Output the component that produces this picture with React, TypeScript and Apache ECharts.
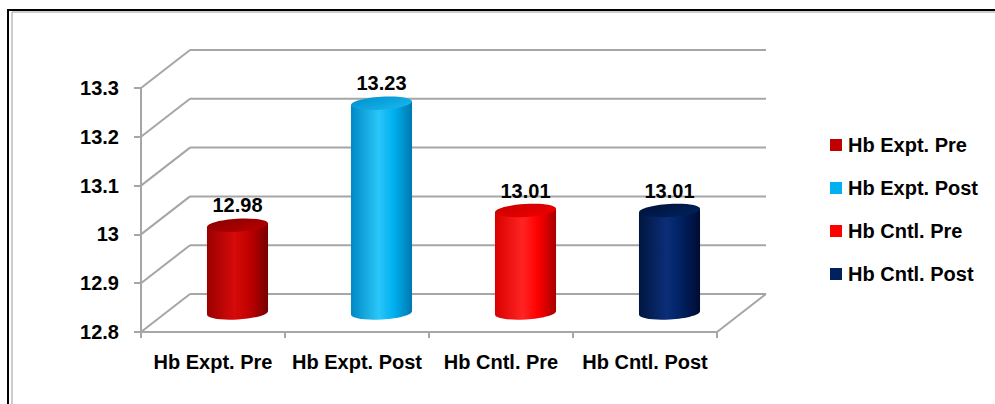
import React, { useEffect, useRef } from 'react';
import * as echarts from 'echarts';

const categories = ['Hb Expt. Pre', 'Hb Expt. Post', 'Hb Cntl. Pre', 'Hb Cntl. Post'];
const values = [12.98, 13.23, 13.01, 13.01];
const colors = ['#C00000', '#00B0F0', '#FF0000', '#002060'];
const yTicks = [12.8, 12.9, 13.0, 13.1, 13.2, 13.3];
const Y_MIN = 12.8;
const Y_MAX = 13.3;
const Y_STEP = 0.1;

// body gradients [left, highlight, mid, right], top face colours
const bodyStops = [
  ['#9A0000', '#D60A0A', '#C00000', '#760000'],
  ['#0088C4', '#2AC6F8', '#00B0F0', '#0078B0'],
  ['#D80000', '#FF2424', '#FF0000', '#A80000'],
  ['#00163F', '#0B2E78', '#002060', '#000C32'],
];
const topStops = [
  ['#8A0000', '#B80000'],
  ['#0090CC', '#1AB8F0'],
  ['#C80000', '#F00000'],
  ['#00123A', '#00225E'],
];

const DX = 49;
const DY = -38;
const ROT = 0.06;
const FONT = 'Liberation Sans, Arial, sans-serif';
const FS = 20;
const GRID_COLOR = '#A6A6A6';

export default function App() {
  const ref = useRef<HTMLDivElement>(null);
  useEffect(() => {
    document.body.style.margin = '0';
    const chart = echarts.init(ref.current!, null, { renderer: 'svg' });

    const frameSeries: any = {
      type: 'custom',
      name: '__frame',
      z: 1,
      clip: false,
      silent: true,
      data: yTicks.map((t) => [0, t]),
      encode: { x: 0, y: 1 },
      renderItem: (params: any, api: any) => {
        const cs = params.coordSys;
        const x0 = cs.x;
        const x1 = cs.x + cs.width;
        const v = api.value(1);
        const y = api.coord([0, v])[1];
        const style = { stroke: GRID_COLOR, lineWidth: 2 };
        const children: any[] = [
          { type: 'line', shape: { x1: x0, y1: y, x2: x0 + DX, y2: y + DY }, style },
          { type: 'line', shape: { x1: x0 + DX, y1: y + DY, x2: x1 + DX, y2: y + DY }, style },
        ];
        if (Math.abs(v - Y_MIN) < 1e-9) {
          children.push({ type: 'line', shape: { x1: x1, y1: y, x2: x1 + DX, y2: y + DY }, style });
        }
        return { type: 'group', children };
      },
    };

    const barSeries = categories.map((name, i) => ({
      type: 'custom',
      name,
      z: 3,
      clip: false,
      itemStyle: { color: colors[i] },
      data: [[i, values[i]]],
      encode: { x: 0, y: 1 },
      renderItem: (params: any, api: any) => {
        const ci = api.value(0);
        const v = api.value(1);
        const top = api.coord([ci, v]);
        const base = api.coord([ci, Y_MIN]);
        const band = api.size([1, 0])[0];
        const cx = top[0] + DX / 2;
        const ty = top[1] + DY / 2;
        const by = base[1] + DY / 2;
        const rx = band * 0.212;
        const ry = 6.5;
        const s = rx * Math.sin(ROT);
        const st = bodyStops[i];
        const grad = () =>
          new echarts.graphic.LinearGradient(0, 0, 1, 0, [
            { offset: 0, color: st[0] },
            { offset: 0.45, color: st[1] },
            { offset: 0.7, color: st[2] },
            { offset: 1, color: st[3] },
          ]);
        const tg = new echarts.graphic.LinearGradient(0, 0, 1, 1, [
          { offset: 0, color: topStops[i][0] },
          { offset: 1, color: topStops[i][1] },
        ]);
        return {
          type: 'group',
          children: [
            {
              type: 'ellipse',
              x: cx,
              y: by,
              rotation: ROT,
              shape: { cx: 0, cy: 0, rx, ry },
              style: { fill: grad() },
            },
            {
              type: 'polygon',
              shape: {
                points: [
                  [cx - rx, ty + s],
                  [cx + rx, ty - s],
                  [cx + rx, by - s],
                  [cx - rx, by + s],
                ],
              },
              style: { fill: grad() },
            },
            {
              type: 'ellipse',
              x: cx,
              y: ty,
              rotation: ROT,
              shape: { cx: 0, cy: 0, rx, ry },
              style: { fill: tg },
            },
            {
              type: 'text',
              x: cx,
              y: ty - 20,
              style: {
                text: String(v),
                fill: '#000',
                font: `bold ${FS}px ${FONT}`,
                align: 'center',
                verticalAlign: 'middle',
              },
            },
          ],
        };
      },
    }));

    chart.setOption({
      animation: false,
      backgroundColor: '#fff',
      grid: { left: 141, top: 88, width: 576, height: 244, containLabel: false },
      legend: {
        orient: 'vertical',
        left: 830,
        top: 135,
        padding: 0,
        itemWidth: 12,
        itemHeight: 12,
        itemGap: 23,
        icon: 'rect',
        data: categories,
        textStyle: {
          fontFamily: FONT,
          fontWeight: 'bold',
          fontSize: FS,
          lineHeight: 20,
          color: '#000',
          padding: [0, 0, 0, 1],
        },
      },
      xAxis: {
        type: 'category',
        data: categories,
        axisLine: { show: true, lineStyle: { color: GRID_COLOR, width: 2 } },
        axisTick: { show: true, alignWithLabel: false, length: 6, lineStyle: { color: GRID_COLOR, width: 2 } },
        axisLabel: { interval: 0, margin: 20, color: '#000', fontFamily: FONT, fontWeight: 'bold', fontSize: FS },
        splitLine: { show: false },
      },
      yAxis: {
        type: 'value',
        min: Y_MIN,
        max: Y_MAX,
        interval: Y_STEP,
        axisLine: { show: true, lineStyle: { color: GRID_COLOR, width: 2 } },
        axisTick: { show: true, length: 7, lineStyle: { color: GRID_COLOR, width: 2 } },
        axisLabel: { margin: 22, color: '#000', fontFamily: FONT, fontWeight: 'bold', fontSize: FS },
        splitLine: { show: false },
      },
      graphic: [
        { type: 'line', shape: { x1: 8, y1: 10, x2: 995, y2: 10 }, style: { stroke: '#000', lineWidth: 2 } },
        { type: 'line', shape: { x1: 12, y1: 12, x2: 995, y2: 12 }, style: { stroke: '#9A9A9A', lineWidth: 1 } },
        { type: 'line', shape: { x1: 8, y1: 9, x2: 8, y2: 404 }, style: { stroke: '#000', lineWidth: 2 } },
        { type: 'line', shape: { x1: 12, y1: 12, x2: 12, y2: 404 }, style: { stroke: '#9A9A9A', lineWidth: 1 } },
      ],
      series: [frameSeries, ...barSeries],
    });
    return () => chart.dispose();
  }, []);
  return <div ref={ref} style={{ position: 'absolute', left: 0, top: 0, width: 995, height: 404 }} />;
}
